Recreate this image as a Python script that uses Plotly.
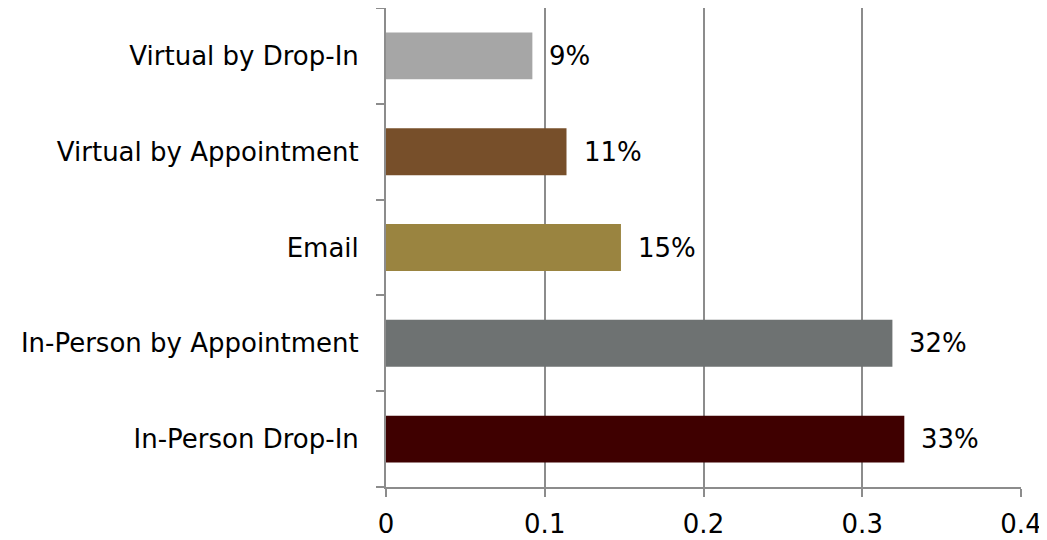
import plotly.graph_objects as go

categories = ["In-Person Drop-In", "In-Person by Appointment", "Email",
              "Virtual by Appointment", "Virtual by Drop-In"]
shares = [0.3265, 0.319, 0.148, 0.1137, 0.0922]
labels = ["33%", "32%", "15%", "11%", "9%"]
colors = ["#3F0000", "#6E7272", "#9A8440", "#774F2A", "#A6A6A6"]

font_name = "DejaVu Sans"

fig = go.Figure()

fig.add_trace(go.Bar(
    x=shares,
    y=categories,
    orientation='h',
    marker=dict(color=colors, line=dict(width=0)),
    width=0.49,
    hoverinfo='skip',
))

for cat, val, lab in zip(categories, shares, labels):
    fig.add_annotation(
        x=val, y=cat, text=lab, showarrow=False,
        xanchor='left', xshift=15,
        font=dict(size=26, color='#000000', family=font_name),
    )

# page body adds an 8px offset, so the figure is trimmed to fit the window
fig.update_layout(
    width=1039,
    height=532,
    margin=dict(l=378, r=26, t=0, b=53),
    plot_bgcolor='white',
    paper_bgcolor='white',
    showlegend=False,
    font=dict(family=font_name, color='#000000'),
)

fig.update_xaxes(
    range=[0, 0.4],
    tickvals=[0, 0.1, 0.2, 0.3, 0.4],
    ticktext=["0", "0.1", "0.2", "0.3", "0.4"],
    showgrid=True,
    gridcolor='#8C8C8C',
    gridwidth=2,
    zeroline=False,
    showline=True,
    linecolor='#8C8C8C',
    linewidth=2,
    ticks='outside',
    ticklen=8,
    tickwidth=2,
    tickcolor='#8C8C8C',
    tickfont=dict(size=26),
    ticklabelstandoff=5,
    automargin=False,
)

fig.update_yaxes(
    categoryorder='array',
    categoryarray=categories,
    range=[-0.5, 4.5],
    showline=True,
    linecolor='#8C8C8C',
    linewidth=2,
    ticks='outside',
    tickson='boundaries',
    ticklen=8,
    tickwidth=2,
    tickcolor='#8C8C8C',
    tickfont=dict(size=26),
    ticklabelstandoff=20,
    showgrid=False,
    automargin=False,
)

fig.write_html("out.html")
